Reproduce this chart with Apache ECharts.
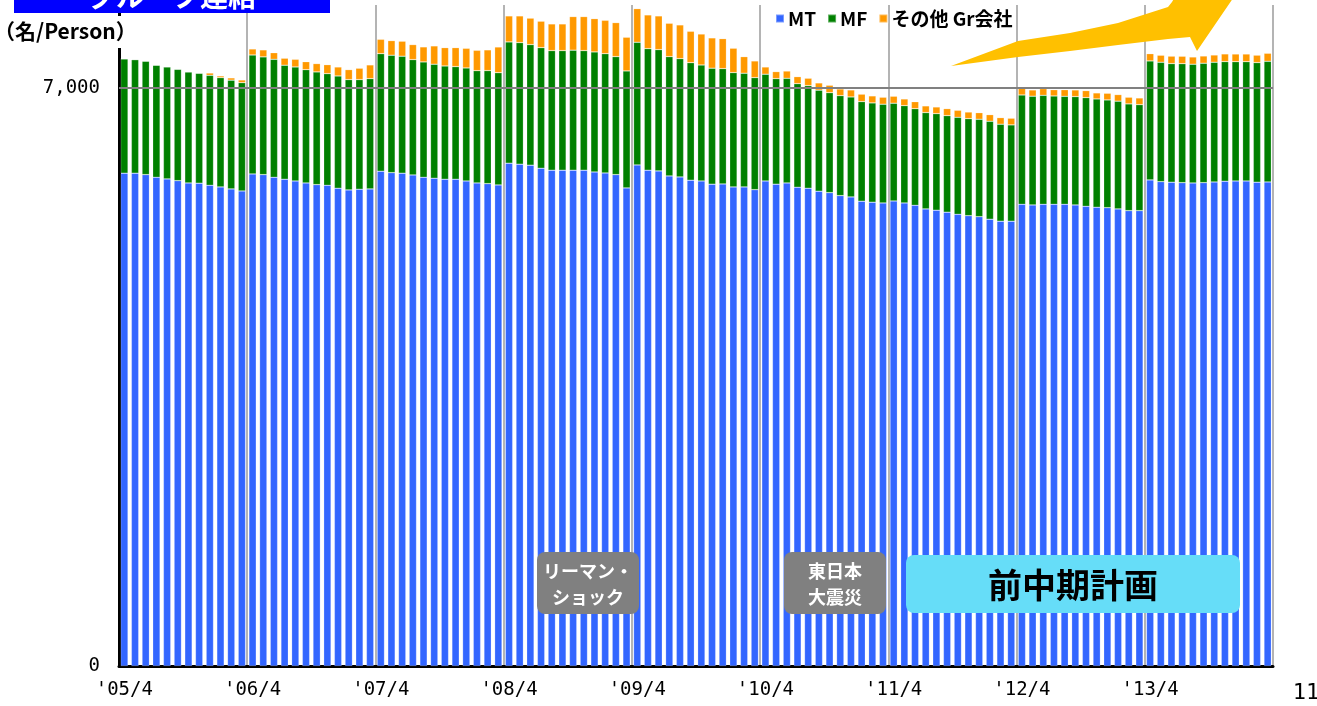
<!DOCTYPE html>
<html>
<head>
<meta charset="utf-8">
<script src="https://cdn.jsdelivr.net/npm/echarts@6/dist/echarts.min.js"></script>
<style>
  html, body { margin: 0; padding: 0; background: #fff; }
  #chart { width: 1317px; height: 706px; }
</style>
</head>
<body>
<div id="chart"></div>
<script>
// --- data (monthly headcount, '05/4 .. '14/3) ---
var years = ["'05", "'06", "'07", "'08", "'09", "'10", "'11", "'12", "'13"];
var months = [4, 5, 6, 7, 8, 9, 10, 11, 12, 1, 2, 3];
var seriesNames = ['MT', 'MF', 'その他 Gr会社'];

var mt = [
  5964, 5964, 5947, 5915, 5895, 5874, 5846, 5843, 5818, 5798, 5774, 5749,
  5955, 5947, 5915, 5891, 5870, 5846, 5826, 5818, 5782, 5762, 5770, 5774,
  5988, 5971, 5964, 5943, 5915, 5903, 5891, 5891, 5870, 5846, 5838, 5822,
  6085, 6073, 6061, 6024, 6000, 6000, 6000, 6000, 5979, 5967, 5947, 5786,
  6064, 6000, 5992, 5931, 5919, 5879, 5870, 5831, 5834, 5798, 5798, 5765,
  5870, 5831, 5846, 5794, 5782, 5746, 5729, 5693, 5677, 5625, 5613, 5604,
  5628, 5604, 5576, 5532, 5516, 5492, 5467, 5450, 5438, 5407, 5383, 5383,
  5588, 5580, 5588, 5588, 5588, 5580, 5564, 5552, 5547, 5532, 5511, 5511,
  5883, 5862, 5855, 5850, 5846, 5850, 5858, 5867, 5870, 5870, 5855, 5858
];
var mf = [
  1384, 1375, 1373, 1356, 1356, 1348, 1344, 1331, 1331, 1323, 1316, 1311,
  1440, 1425, 1428, 1380, 1380, 1371, 1364, 1351, 1359, 1335, 1327, 1335,
  1423, 1421, 1416, 1396, 1396, 1380, 1371, 1363, 1368, 1359, 1368, 1359,
  1468, 1472, 1460, 1460, 1448, 1448, 1453, 1448, 1453, 1444, 1428, 1416,
  1485, 1472, 1468, 1444, 1432, 1423, 1404, 1404, 1396, 1384, 1376, 1356,
  1292, 1278, 1267, 1254, 1242, 1223, 1210, 1210, 1210, 1206, 1202, 1195,
  1183, 1178, 1169, 1166, 1169, 1169, 1174, 1174, 1179, 1186, 1174, 1166,
  1323, 1316, 1319, 1311, 1307, 1311, 1315, 1311, 1304, 1304, 1292, 1283,
  1440, 1445, 1436, 1440, 1437, 1445, 1449, 1448, 1444, 1444, 1448, 1461
];
var other = [
  0, 0, 0, 0, 0, 0, 0, 0, 28, 21, 28, 33,
  73, 85, 80, 85, 93, 97, 101, 109, 109, 121, 138, 166,
  174, 177, 182, 182, 182, 222, 222, 230, 238, 247, 251, 311,
  315, 323, 320, 320, 323, 323, 407, 412, 403, 404, 412, 408,
  407, 408, 408, 404, 408, 380, 375, 367, 363, 295, 201, 202,
  88, 85, 88, 85, 90, 88, 90, 81, 85, 90, 85, 85,
  85, 81, 85, 81, 81, 85, 85, 81, 80, 80, 80, 81,
  81, 76, 80, 76, 80, 81, 85, 73, 81, 80, 81, 81,
  88, 85, 90, 90, 88, 88, 88, 93, 93, 93, 90, 97
];
var yMax = 8000;
var refLine = 7000;

var categories = [];
years.forEach(function(y) {
  months.forEach(function(m) { categories.push(y + '/' + m); });
});

var jp = '"Noto Sans CJK JP", "Noto Sans", sans-serif';
var mono = '"DejaVu Sans Mono", monospace';
var colors = ['#3366FF', '#008000', '#FF9900'];

var chart = echarts.init(document.getElementById('chart'), null, { renderer: 'canvas' });

function barSeries(name, data, color, extra) {
  var s = {
    name: name,
    type: 'bar',
    stack: 'total',
    data: data,
    barCategoryGap: '31%',
    itemStyle: { color: color, borderColor: 'rgba(255,255,255,0.35)', borderWidth: 0.6 },
    emphasis: { disabled: true }
  };
  return Object.assign(s, extra || {});
}

// rounded box with centred text, drawn above the bars
function noteBox(x, y, w, h, fill, text, font, color, lh) {
  return {
    type: 'group',
    children: [
      { type: 'rect', z: 100, shape: { x: x, y: y, width: w, height: h, r: 8 }, style: { fill: fill } },
      { type: 'text', z: 101, x: x + w / 2, y: y + h / 2 + 1, style: { text: text, fill: color, font: font, align: 'center', verticalAlign: 'middle', lineHeight: lh } }
    ]
  };
}

chart.setOption({
  animation: false,
  color: colors,
  grid: { left: 119, right: 44, top: 5, bottom: 40, containLabel: false },
  legend: {
    data: seriesNames,
    left: 770,
    top: 4,
    icon: 'rect',
    itemWidth: 8,
    itemHeight: 8,
    itemGap: 11,
    textStyle: { color: '#000', fontFamily: jp, fontWeight: 'bold', fontSize: 19, padding: [0, 0, 0, -1] }
  },
  xAxis: {
    type: 'category',
    data: categories,
    axisLine: { show: true, lineStyle: { color: '#000', width: 3 } },
    axisTick: { show: false },
    axisLabel: {
      interval: function(idx) { return idx % 12 === 0; },
      color: '#000',
      fontFamily: mono,
      fontSize: 19,
      margin: 15
    },
    splitLine: {
      show: true,
      interval: function(idx) { return idx % 12 === 0; },
      lineStyle: { color: '#B4B4B4', width: 2 }
    }
  },
  yAxis: {
    type: 'value',
    min: 0,
    max: yMax,
    interval: refLine,
    axisLine: { show: true, lineStyle: { color: '#000', width: 3 } },
    axisTick: { show: false },
    splitLine: { show: false },
    axisLabel: {
      color: '#000',
      fontFamily: mono,
      fontSize: 19,
      margin: 19,
      showMaxLabel: false,
      formatter: function(v) { return v === yMax ? '' : v.toLocaleString('en-US'); }
    }
  },
  series: [
    barSeries(seriesNames[0], mt, colors[0]),
    barSeries(seriesNames[1], mf, colors[1]),
    barSeries(seriesNames[2], other, colors[2], {
      markLine: {
        silent: true,
        symbol: 'none',
        label: { show: false },
        lineStyle: { color: '#808080', width: 2, type: 'solid' },
        data: [{ yAxis: refLine }]
      }
    })
  ],
  graphic: [
    // title bar (cut off at the top of the slide)
    { type: 'rect', z: 100, shape: { x: 14, y: -30, width: 316, height: 43 }, style: { fill: '#0000FF' } },
    { type: 'text', z: 101, x: 172, y: -4, style: { text: 'グループ連結', fill: '#fff', font: 'bold 28px ' + jp, align: 'center', verticalAlign: 'middle' } },
    { type: 'rect', z: 100, shape: { x: 116, y: 16, width: 7, height: 32 }, style: { fill: '#fff' } },
    { type: 'text', z: 101, x: -6, y: 31, style: { text: '（名/Person）', fill: '#000', font: 'bold 21px ' + jp, verticalAlign: 'middle' } },
    // growth arrow
    {
      type: 'polygon', z: 100,
      shape: {
        points: [
          [951, 66], [1018, 57], [1070, 51], [1118, 45], [1168, 39], [1190, 37],
          [1197, 51], [1240, -12], [1180, -12], [1172, 2], [1168, 7], [1118, 23],
          [1070, 33], [1018, 41]
        ]
      },
      style: { fill: '#FFC000' }
    },
    noteBox(537, 552, 102, 62, '#808080', 'リーマン・\nショック', 'bold 18px ' + jp, '#fff', 26),
    noteBox(784, 552, 102, 62, '#808080', '東日本\n大震災', 'bold 18px ' + jp, '#fff', 26),
    noteBox(906, 555, 334, 58, '#66DDF8', '前中期計画', 'bold 34px ' + jp, '#000', 38),
    { type: 'text', z: 101, x: 1306, y: 693, style: { text: '11', fill: '#000', font: '22px ' + mono, align: 'center', verticalAlign: 'middle' } }
  ]
});
window.addEventListener('resize', function() { chart.resize(); });
</script>
</body>
</html>
